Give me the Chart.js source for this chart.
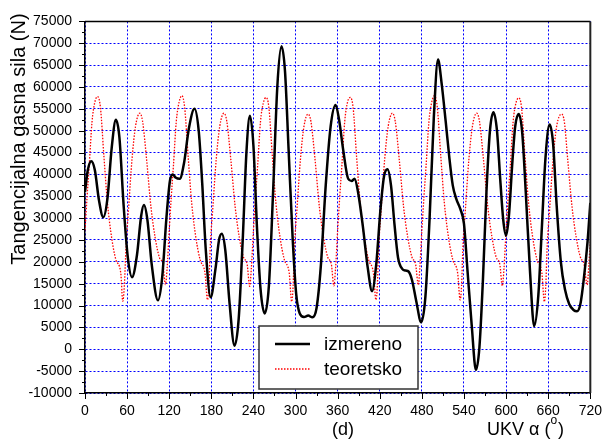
<!DOCTYPE html>
<html>
<head>
<meta charset="utf-8">
<script src="https://cdn.jsdelivr.net/npm/chart.js@4.4.1/dist/chart.umd.min.js"></script>
<style>
  html, body { margin: 0; padding: 0; background: #fff; }
  #sila { display: block; }
</style>
</head>
<body>
<canvas id="sila" width="612" height="439"></canvas>
<script>
// izmereno (measured) - angle in degrees, force in N
const izmerenoUgao = [0,4,9,14,20,26,32,38,44,49,55,61,67,74,80,84,89,95,104,110,116,121,125,129,135,141,148,156,162,167,172,179,
  186,191,195,200,206,213,219,225,230,235,240,245,250,256,262,268,274,280,285,290,296,301,306,312,318,324,330,336,343,350,357,
  362,368,375,380,384,389,396,403,409,415,421,426,431,436,441,446,452,457,461,466,472,479,485,491,497,503,508,514,519,524,529,
  535,540,545,551,557,562,567,572,577,582,587,592,596,600,604,609,613,618,623,628,634,640,646,651,656,662,667,672,678,684,690,
  696,701,706,711,716,720];
const izmerenoSila = [36000,41000,43000,41000,34000,30200,34500,46000,52500,48500,33000,21000,16500,21500,30500,33000,29500,19500,
  11200,16500,30000,38500,40000,39300,39000,42500,50500,55000,50000,38000,23000,11900,
  18500,25000,26400,22500,10500,800,7000,26000,45000,53400,46500,28000,14000,8200,14500,36000,60000,69300,63500,46000,25000,12500,
  8200,7400,7700,7300,9500,19000,37500,51000,55900,
  52500,45500,39000,38500,39000,36000,28000,18500,13300,19500,32000,39500,41200,37500,28500,21000,18400,18000,17800,15800,11000,
  6200,12000,30000,53000,66300,61000,52000,44000,37500,34400,
  32000,28700,18000,5500,-4700,500,16000,36000,50000,54200,50000,38000,29500,26000,30500,43000,51000,53800,49500,36000,18000,5300,
  12500,28000,43500,51400,47000,33000,20000,13600,10300,
  9000,8700,10500,16500,24500,33500];

// teoretsko (theoretical)
const teoretskoUgao = [
  0,3,6,10,14,18,22,27,32,38,44,51,53.8,56,58.5,62,67,72,78,82,88,94,100,106,111,114.6,117,
  120,123,126,130,134,138,142,147,152,158,164,171,174.5,176.5,178.5,182,187,192,198,202,208,214,220,226,231,234.6,237,
  240,243,246,250,254,258,262,267,272,278,284,291,294.5,296.5,298.5,302,307,312,318,322,328,334,340,346,351,354.6,357,
  360,363,366,370,374,378,382,387,392,398,404,411,414.5,416.5,418.5,422,427,432,438,442,448,454,460,466,471,475,477,
  480,483,486,490,494,498,502,507,512,518,524,531,534.5,536.5,538.5,542,547,552,558,562,568,574,580,586,591,594.6,597,
  600,603,606,610,614,618,622,627,632,638,644,651,654.5,656.5,658.5,662,667,672,679,683,688,694,700,706,711,715.5,718,720];
const teoretskoSila = [
  27200,35000,42000,52000,56500,57800,55300,44000,33500,25500,20500,17400,11000,14400,23500,32000,43500,51000,54000,52200,43000,32500,25500,21000,19500,14800,18500,
  27200,35000,42000,52000,56500,58000,55300,44000,33500,25500,20500,17400,11300,14400,23500,32000,43500,51000,54000,52200,43000,32500,25500,21000,19500,14400,18500,
  27200,35000,42000,52000,56300,57600,55300,44000,33500,25500,20500,17400,10900,14400,23500,32000,43500,51000,53800,52000,43000,32500,25500,21000,19500,14500,18500,
  27200,35000,42000,52000,56500,57600,55300,44000,33500,25500,20500,17400,11300,14400,23500,32000,43500,51000,54000,52200,43000,32500,25500,21000,19500,14700,18500,
  27200,35000,42000,52000,56500,58000,55300,44000,33500,25500,20500,17400,11300,14400,23500,32000,43500,51000,54000,52200,43000,32500,25500,21000,19500,14500,18500,
  27200,35000,42000,52000,56300,57500,55300,44000,33500,25500,20500,17400,10900,14400,23500,32000,43500,51000,53800,52000,43000,32500,25500,21000,19500,14700,19500,24600];

const xOsa = { min: 0, max: 720, step: 60 };
const yOsa = { min: -10000, max: 75000, step: 5000 };

const FONT = "'Liberation Sans', Arial, sans-serif";
const tacke = (xs, ys) => xs.map((x, i) => ({ x: x, y: ys[i] }));

// axis tick marks, frame, titles and legend box
const okvir = {
  id: 'okvir',
  afterDraw(chart) {
    const { ctx, chartArea: a, scales: { x, y } } = chart;
    ctx.save();
    ctx.strokeStyle = '#000';
    ctx.lineWidth = 1;
    ctx.beginPath();
    for (let v = yOsa.min; v <= yOsa.max; v += yOsa.step / 2) {
      const py = Math.round(y.getPixelForValue(v)) + 0.5;
      const len = v % yOsa.step === 0 ? 6 : 3;
      ctx.moveTo(a.left - len, py); ctx.lineTo(a.left, py);
    }
    for (let v = xOsa.min; v <= xOsa.max; v += xOsa.step / 2) {
      const px = Math.round(x.getPixelForValue(v)) + 0.5;
      const len = v % xOsa.step === 0 ? 6 : 3;
      ctx.moveTo(px, a.bottom); ctx.lineTo(px, a.bottom + len);
    }
    ctx.stroke();

    // top and right frame
    ctx.lineWidth = 1.5;
    ctx.beginPath();
    ctx.moveTo(a.left, a.top); ctx.lineTo(a.right, a.top);
    ctx.stroke();
    ctx.strokeStyle = '#222';
    ctx.lineWidth = 2;
    ctx.beginPath();
    ctx.moveTo(a.right, a.top); ctx.lineTo(a.right, a.bottom);
    ctx.stroke();

    // titles
    ctx.fillStyle = '#000';
    ctx.textBaseline = 'middle';
    ctx.textAlign = 'center';
    ctx.font = '20px ' + FONT;
    ctx.save();
    ctx.translate(19, 139);
    ctx.rotate(-Math.PI / 2);
    ctx.fillText('Tangencijalna gasna sila (N)', 0, 0);
    ctx.restore();

    ctx.textBaseline = 'alphabetic';
    ctx.font = '18px ' + FONT;
    ctx.fillText('(d)', 343, 435);
    ctx.textAlign = 'left';
    let tx = 487;
    const delovi = [['UKV \u03b1 (', 18, 0], ['o', 12, -11], [')', 18, 0]];
    delovi.forEach(([t, s, dy]) => {
      ctx.font = s + 'px ' + FONT;
      ctx.fillText(t, tx, 435 + dy);
      tx += ctx.measureText(t).width + (t === 'o' ? 1 : 0);
    });

    // legend
    const L = { l: 259, t: 326, r: 418, b: 389 };
    ctx.fillStyle = '#fff';
    ctx.fillRect(L.l, L.t, L.r - L.l, L.b - L.t);
    ctx.strokeStyle = '#333';
    ctx.lineWidth = 1.5;
    ctx.strokeRect(L.l, L.t, L.r - L.l, L.b - L.t);
    chart.data.datasets.forEach((ds, i) => {
      const ly = 344 + i * 25;
      ctx.strokeStyle = ds.borderColor;
      ctx.lineWidth = ds.borderWidth;
      ctx.setLineDash(ds.borderDash || []);
      ctx.beginPath();
      ctx.moveTo(275, ly); ctx.lineTo(310, ly);
      ctx.stroke();
      ctx.setLineDash([]);
      ctx.fillStyle = '#000';
      ctx.font = '19px ' + FONT;
      ctx.textAlign = 'left';
      ctx.textBaseline = 'middle';
      ctx.fillText(ds.label, 324, ly + 1);
    });
    ctx.restore();
  }
};

new Chart(document.getElementById('sila').getContext('2d'), {
  type: 'line',
  data: {
    datasets: [
      {
        label: 'izmereno',
        data: tacke(izmerenoUgao, izmerenoSila),
        borderColor: '#000',
        borderWidth: 2.5,
        pointRadius: 0,
        cubicInterpolationMode: 'monotone',
        order: 1,
      },
      {
        label: 'teoretsko',
        data: tacke(teoretskoUgao, teoretskoSila),
        borderColor: '#ff0000',
        borderWidth: 1.3,
        borderDash: [1.5, 1.5],
        pointRadius: 0,
        cubicInterpolationMode: 'monotone',
        order: 2,
      },
    ],
  },
  options: {
    responsive: false,
    animation: false,
    layout: { padding: { top: 17, right: 14, left: 0, bottom: 0 } },
    plugins: { legend: { display: false }, tooltip: { enabled: false } },
    scales: {
      x: {
        type: 'linear',
        min: xOsa.min,
        max: xOsa.max,
        afterFit(s) { s.height = 46; },
        ticks: {
          stepSize: xOsa.step,
          padding: 10,
          maxRotation: 0,
          color: '#000',
          font: { family: FONT, size: 14 },
          callback: (v) => String(v),
        },
        grid: { color: '#0000ff', lineWidth: 1, drawTicks: false },
        border: { display: true, color: '#000', width: 1.5, dash: [2, 2] },
      },
      y: {
        min: yOsa.min,
        max: yOsa.max,
        afterFit(s) { s.width = 85; },
        ticks: {
          stepSize: yOsa.step,
          padding: 13,
          color: '#000',
          font: { family: FONT, size: 14 },
          callback: (v) => String(v),
        },
        grid: { color: '#0000ff', lineWidth: 1, drawTicks: false },
        border: { display: true, color: '#000', width: 1.5, dash: [2, 2] },
      },
    },
  },
  plugins: [okvir],
});
</script>
</body>
</html>
